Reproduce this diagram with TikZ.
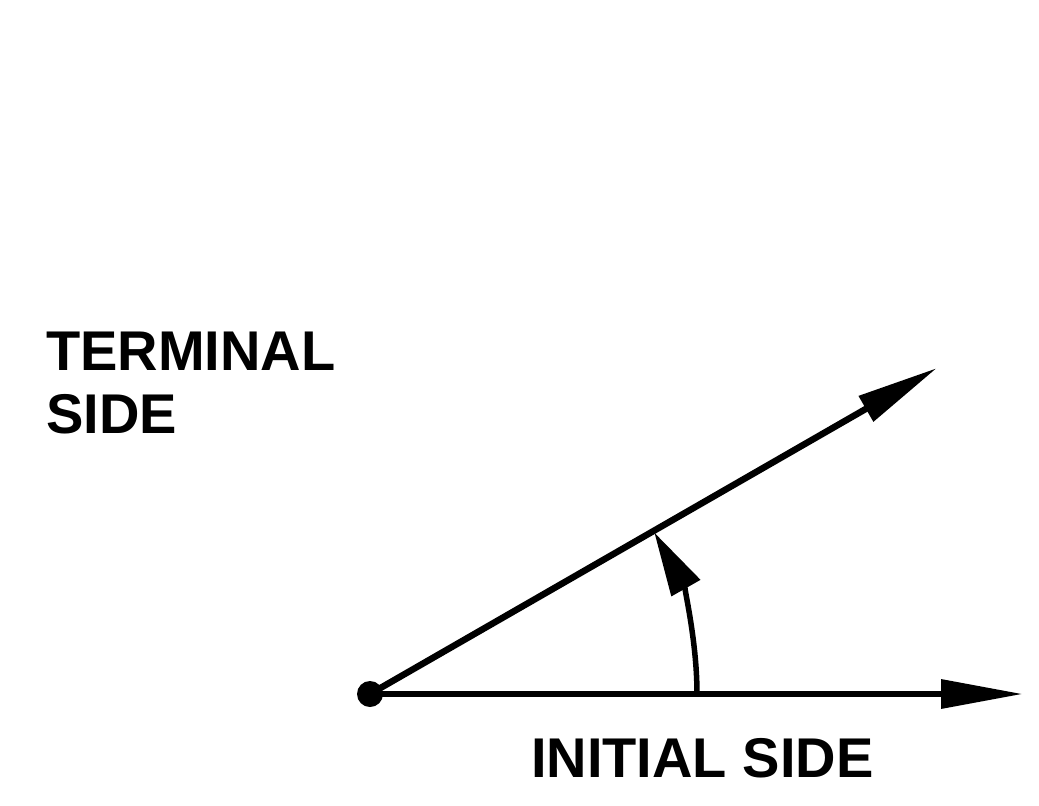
\documentclass[tikz,border=0pt]{standalone}
\usepackage{fontspec}
\setmainfont{Liberation Sans}
\usetikzlibrary{arrows.meta}
\begin{document}
\begin{tikzpicture}[x=1pt,y=-1pt,
  side/.style={line width=6.5pt,-{Triangle[length=82pt,width=28pt]}},
  sweep/.style={line width=5.5pt,-{Triangle[length=64pt,width=32pt]}},
  lbl/.style={inner sep=0pt,anchor=base west,font=\fontsize{56pt}{63pt}\selectfont\bfseries}]
\useasboundingbox (0,0) rectangle (1039,806);
\fill[white] (0,0) rectangle (1039,806);
\node[circle,fill=black,minimum size=26pt,inner sep=0pt] (O) at (370,694) {};
\coordinate (T) at (937,368);
\coordinate (I) at (1023,694);
\coordinate (A) at (697,694);
\draw[side] (O.center) -- (T);
\draw[side] (O.center) -- (I);
\draw[sweep] (A) arc[start angle=0,end angle=-29.6,radius=327];
\node[lbl] (term) at (46,370) {TERMINAL};
\node[lbl] (tside) at (46,433) {SIDE};
\node[lbl] (init) at (531,777) {INITIAL SIDE};
\end{tikzpicture}
\end{document}
